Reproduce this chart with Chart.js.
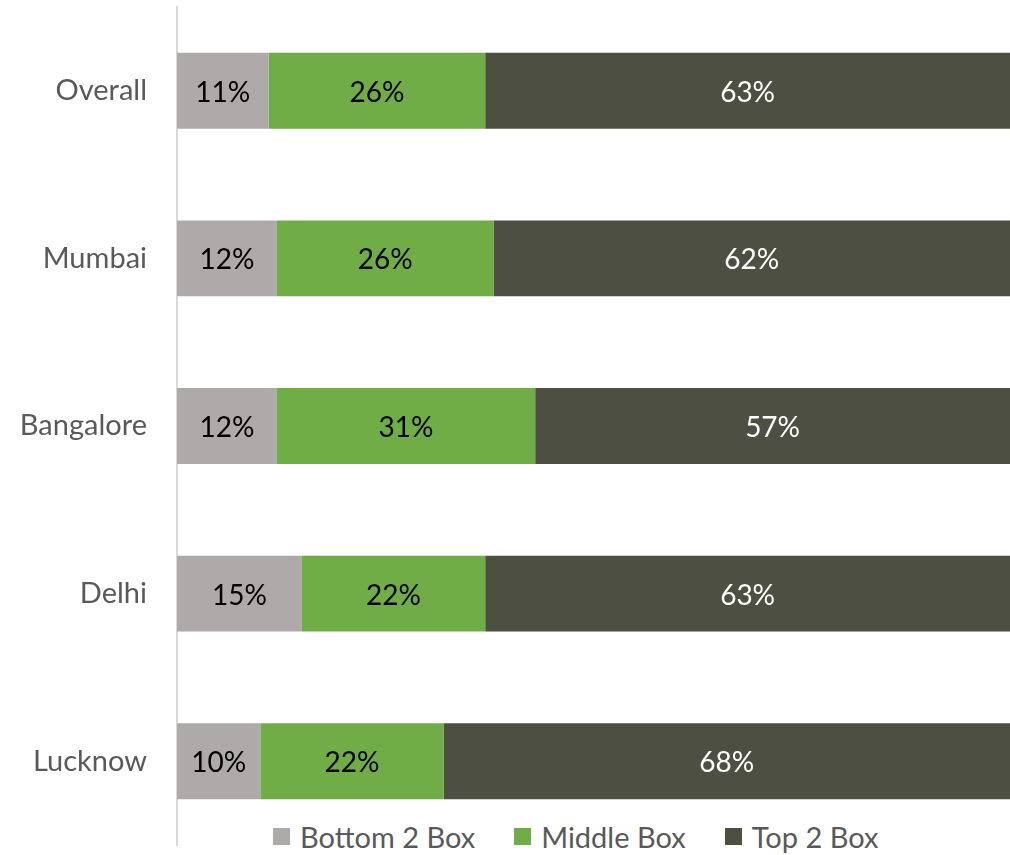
<!DOCTYPE html>
<html>
<head>
<meta charset="utf-8">
<script src="https://cdn.jsdelivr.net/npm/chart.js@4/dist/chart.umd.min.js"></script>
<style>
    html, body { margin: 0; padding: 0; background: #fff; }
    #wrap { position: relative; width: 1010px; height: 855px; }
    #legend {
        position: absolute; left: 273px; top: 819px;
        display: flex; align-items: center;
        font-family: Lato, 'Open Sans', sans-serif; font-size: 29px; color: #595959;
        background: #fff; padding: 0 4px 0 0;
    }
    #legend span.item { display: flex; align-items: center; margin-right: 39px; }
    #legend span.item:last-child { margin-right: 0; }
    #legend i { display: inline-block; width: 17px; height: 17px; margin-right: 10px; }
</style>
</head>
<body>
<div id="wrap">
    <canvas id="c" width="1010" height="855"></canvas>
    <div id="legend"></div>
</div>
<script>
(function () {
    'use strict';

    // 各都市の回答分布（%）
    const CITIES = ['Overall', 'Mumbai', 'Bangalore', 'Delhi', 'Lucknow'];
    const BOTTOM2 = [11, 12, 12, 15, 10];
    const MIDDLE = [26, 26, 31, 22, 22];
    const TOP2 = [63, 62, 57, 63, 68];
    const SERIES_NAMES = ['Bottom 2 Box', 'Middle Box', 'Top 2 Box'];
    const COLORS = ['#AEAAA9', '#70AD47', '#4D4F42'];
    const LABEL_COLORS = ['#000', '#000', '#fff'];
    const FONT = 'Lato, "Open Sans", sans-serif';

    /* ---------- 棒の中央に%を描く ---------- */
    const valueLabels = {
        id: 'valueLabels',
        afterDatasetsDraw: function (chart) {
            const ctx = chart.ctx;
            ctx.save();
            ctx.font = '28px ' + FONT;
            ctx.textAlign = 'center';
            ctx.textBaseline = 'middle';
            chart.data.datasets.forEach(function (ds, i) {
                chart.getDatasetMeta(i).data.forEach(function (bar, j) {
                    const cx = (bar.x + bar.base) / 2;
                    ctx.fillStyle = LABEL_COLORS[i];
                    ctx.fillText(ds.data[j] + '%', cx, bar.y + 2);
                });
            });
            ctx.restore();
        }
    };

    const datasets = [BOTTOM2, MIDDLE, TOP2].map(function (vals, i) {
        return {
            label: SERIES_NAMES[i],
            data: vals,
            backgroundColor: COLORS[i],
            borderWidth: 0,
            barPercentage: 0.453,
            categoryPercentage: 1
        };
    });

    new Chart(document.getElementById('c'), {
        type: 'bar',
        data: { labels: CITIES, datasets: datasets },
        plugins: [valueLabels],
        options: {
            indexAxis: 'y',
            responsive: false,
            animation: false,
            layout: { padding: { top: 7, bottom: 10, left: 0, right: 0 } },
            plugins: { legend: { display: false }, tooltip: { enabled: false } },
            scales: {
                x: { stacked: true, min: 0, max: 100, display: false },
                y: {
                    stacked: true,
                    grid: { display: false, drawTicks: false },
                    border: { display: true, color: '#D9D9D9', width: 2 },
                    ticks: { color: '#595959', font: { family: FONT, size: 29 }, padding: 30 },
                    afterFit: function (scale) {
                        scale.width = 177;
                        scale.paddingTop = 0;
                        scale.paddingBottom = 0;
                    }
                }
            }
        }
    });

    // 凡例（HTML）
    const legend = document.getElementById('legend');
    SERIES_NAMES.forEach(function (name, i) {
        const item = document.createElement('span');
        item.className = 'item';
        const box = document.createElement('i');
        box.style.background = COLORS[i];
        item.append(box, document.createTextNode(name));
        legend.appendChild(item);
    });
})();
</script>
</body>
</html>
